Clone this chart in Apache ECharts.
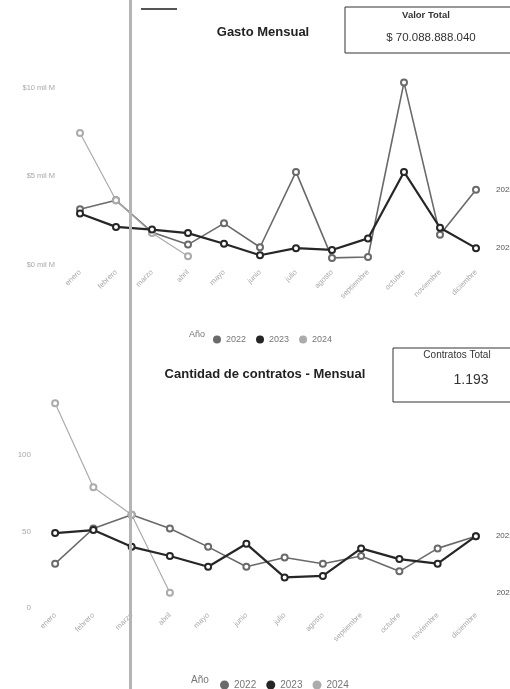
<!DOCTYPE html>
<html>
<head>
<meta charset="utf-8">
<script src="https://cdn.jsdelivr.net/npm/echarts@6/dist/echarts.min.js"></script>
<style>
html,body{margin:0;padding:0;background:#fff;}
#chart{width:510px;height:689px;}
</style>
</head>
<body>
<div id="chart"></div>
<script>
const months = ['enero','febrero','marzo','abril','mayo','junio','julio','agosto','septiembre','octubre','noviembre','diciembre'];
const years = ['2022','2023','2024'];
// Gasto mensual (mil M)
const gasto2022 = [3.15, 3.65, 1.85, 1.15, 2.35, 1.0, 5.25, 0.4, 0.45, 10.3, 1.7, 4.25];
const gasto2023 = [2.9, 2.15, 2.0, 1.8, 1.2, 0.55, 0.95, 0.85, 1.5, 5.25, 2.1, 0.95];
const gasto2024 = [7.45, 3.65, 1.8, 0.5];
// Cantidad de contratos
const contratos2022 = [29, 52, 61, 52, 40, 27, 33, 29, 34, 24, 39, 47];
const contratos2023 = [49, 51, 40, 34, 27, 42, 20, 21, 39, 32, 29, 47];
const contratos2024 = [134, 79, 61, 10];
const gastoTicks = [0, 5, 10];
const contratosTicks = [0, 50, 100];
const valorTotal = '$ 70.088.888.040';
const contratosTotal = '1.193';

const colors = {'2022': '#6a6a6a', '2023': '#262626', '2024': '#ababab'};
const widths = {'2022': 1.6, '2023': 2.2, '2024': 1.2};
const FONT = '"Liberation Sans", Arial, sans-serif';

function lineSeries(name, data, xi, endLabel) {
  const s = {
    name: name, type: 'line', xAxisIndex: xi, yAxisIndex: xi, data: data,
    symbol: 'emptyCircle', symbolSize: 6, showAllSymbol: true,
    lineStyle: {color: colors[name], width: widths[name]},
    itemStyle: {color: colors[name], borderWidth: 1.3},
    z: name === '2023' ? 4 : 3,
    animation: false
  };
  if (endLabel) {
    s.endLabel = {show: true, formatter: name, distance: 20, fontSize: 8,
      color: '#555', fontFamily: FONT};
  }
  return s;
}

const chart = echarts.init(document.getElementById('chart'), null, {renderer: 'canvas'});

const s2024b = lineSeries('2024', contratos2024, 1, false);
s2024b.markPoint = {
  symbol: 'circle', symbolSize: 1, itemStyle: {color: 'rgba(0,0,0,0)'},
  data: [{coord: [months[months.length - 1], contratos2024[contratos2024.length - 1]]}],
  label: {show: true, position: 'right', distance: 20, formatter: '2024', fontSize: 8,
    color: '#555', fontFamily: FONT},
  animation: false
};

const xAxisBase = {
  type: 'category', data: months, boundaryGap: true,
  axisLine: {show: false}, axisTick: {show: false}, splitLine: {show: false},
  axisLabel: {rotate: 45, interval: 0, fontSize: 7.5, color: '#a8a8a8', margin: 6, fontFamily: FONT}
};

chart.setOption({
  backgroundColor: '#fff',
  animation: false,
  textStyle: {fontFamily: FONT},
  grid: [
    {left: 62, right: 16, top: 70, bottom: 424},
    {left: 36, right: 15, top: 394, bottom: 81}
  ],
  xAxis: [
    Object.assign({gridIndex: 0}, xAxisBase),
    Object.assign({gridIndex: 1}, xAxisBase)
  ],
  yAxis: [
    {gridIndex: 0, type: 'value', min: gastoTicks[0], max: 11, interval: gastoTicks[1] - gastoTicks[0],
      axisLine: {show: false}, axisTick: {show: false}, splitLine: {show: false},
      axisLabel: {showMaxLabel: false, fontSize: 7.5, color: '#a8a8a8', margin: 7, fontFamily: FONT,
        formatter: v => '$' + v + ' mil M'}},
    {gridIndex: 1, type: 'value', min: contratosTicks[0], max: 140, interval: contratosTicks[1] - contratosTicks[0],
      axisLine: {show: false}, axisTick: {show: false}, splitLine: {show: false},
      axisLabel: {showMaxLabel: false, fontSize: 8, color: '#a8a8a8', margin: 5, fontFamily: FONT}}
  ],
  legend: [
    {data: years, left: 208, top: 330, icon: 'circle', itemWidth: 8, itemHeight: 8, itemGap: 10,
      textStyle: {fontSize: 9, color: '#777', fontFamily: FONT}, selectedMode: false},
    {data: years, left: 215, top: 675, icon: 'circle', itemWidth: 9, itemHeight: 9, itemGap: 10,
      textStyle: {fontSize: 10, color: '#777', fontFamily: FONT}, selectedMode: false}
  ],
  series: [
    lineSeries('2022', gasto2022, 0, true),
    lineSeries('2023', gasto2023, 0, true),
    lineSeries('2024', gasto2024, 0, false),
    lineSeries('2022', contratos2022, 1, true),
    lineSeries('2023', contratos2023, 1, false),
    s2024b
  ],
  graphic: [
    {type: 'rect', shape: {x: 129, y: 0, width: 3, height: 689}, style: {fill: '#b4b4b4'}, z: 10, silent: true},
    {type: 'rect', shape: {x: 141, y: 8, width: 36, height: 2}, style: {fill: '#555'}, silent: true},
    {type: 'text', style: {x: 263, y: 32, text: 'Gasto Mensual', textAlign: 'center', textVerticalAlign: 'middle',
      font: 'bold 13px ' + FONT, fill: '#222'}},
    {type: 'rect', shape: {x: 345, y: 7, width: 175, height: 46}, style: {fill: '#fff', stroke: '#333', lineWidth: 1}},
    {type: 'text', style: {x: 426, y: 15, text: 'Valor Total', textAlign: 'center', textVerticalAlign: 'middle',
      font: 'bold 9.5px ' + FONT, fill: '#333'}},
    {type: 'text', style: {x: 431, y: 38, text: valorTotal, textAlign: 'center', textVerticalAlign: 'middle',
      font: '11.5px ' + FONT, fill: '#333'}},
    {type: 'text', style: {x: 197, y: 335, text: 'Año', textAlign: 'center', textVerticalAlign: 'middle',
      font: '9px ' + FONT, fill: '#777'}},
    {type: 'text', style: {x: 265, y: 374, text: 'Cantidad de contratos - Mensual', textAlign: 'center', textVerticalAlign: 'middle',
      font: 'bold 13px ' + FONT, fill: '#222'}},
    {type: 'rect', shape: {x: 393, y: 348, width: 130, height: 54}, style: {fill: '#fff', stroke: '#333', lineWidth: 1}},
    {type: 'text', style: {x: 457, y: 355, text: 'Contratos Total', textAlign: 'center', textVerticalAlign: 'middle',
      font: '10px ' + FONT, fill: '#333'}},
    {type: 'text', style: {x: 471, y: 380, text: contratosTotal, textAlign: 'center', textVerticalAlign: 'middle',
      font: '14px ' + FONT, fill: '#333'}},
    {type: 'text', style: {x: 200, y: 680, text: 'Año', textAlign: 'center', textVerticalAlign: 'middle',
      font: '10px ' + FONT, fill: '#777'}}
  ]
});
</script>
</body>
</html>
